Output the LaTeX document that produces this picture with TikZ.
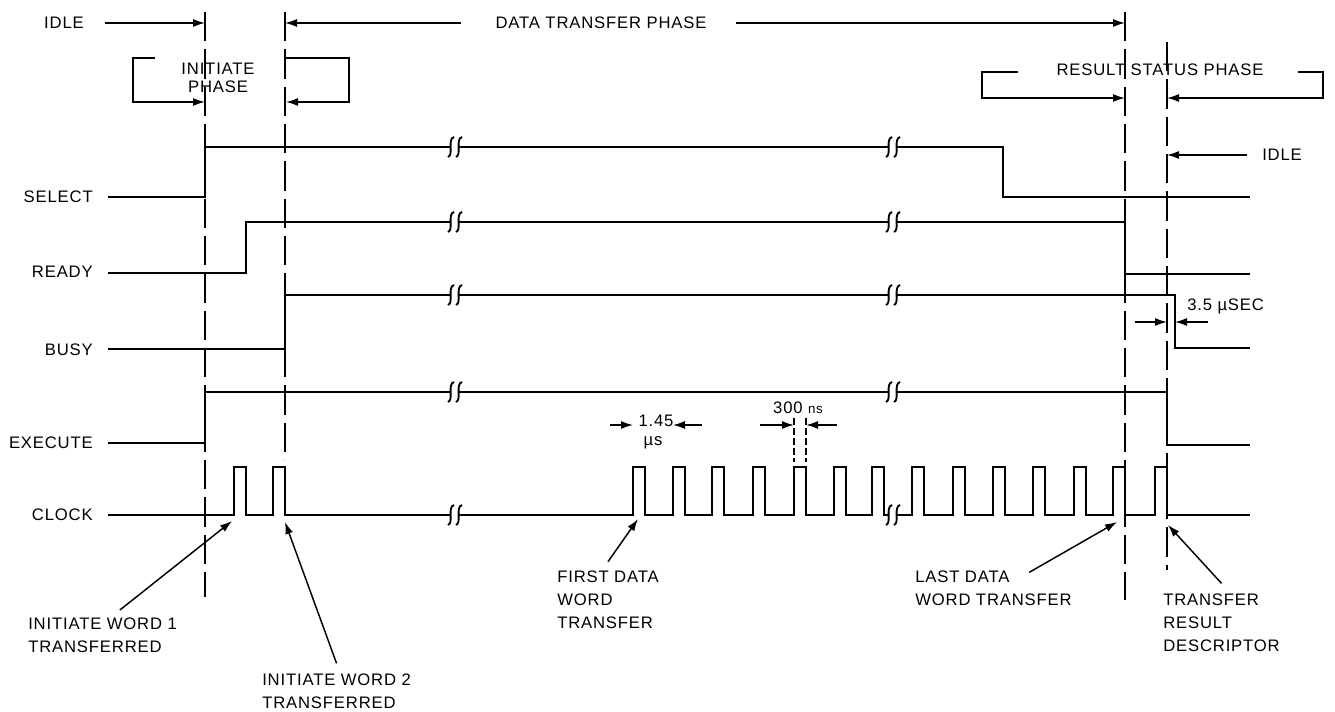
\documentclass[tikz,border=0pt]{standalone}
\usepackage{fontspec}
\setmainfont{Liberation Sans}[LetterSpace=5]
\usetikzlibrary{arrows.meta}

\tikzset{
    brk/.pic={
        \fill[white] (-4,-3) rectangle (4,3);
        \draw[line width=1.4pt] (-7,10) .. controls (-1,8) and (-8,-8) .. (-1,-10);
        \draw[line width=1.4pt] (1,10) .. controls (7,8) and (0,-8) .. (7,-10);
    }
}

\begin{document}
\begin{tikzpicture}[x=0.75pt,y=-0.75pt,
    sig/.style={line width=1.4pt, line join=miter},
    guide/.style={line width=1.4pt, dash pattern=on 22pt off 6pt},
    tick/.style={line width=1.2pt, dash pattern=on 5pt off 2.5pt},
    arr/.style={line width=1.1pt, line join=miter, -{Latex[length=9pt,width=6pt]}},
    lbl/.style={font=\fontsize{12.5}{14}\selectfont, inner sep=0pt},
    note/.style={lbl, align=left, anchor=north west, font=\fontsize{12.5}{17}\selectfont}]

    \useasboundingbox (0,0) rectangle (1335,711);

    \coordinate (g1t) at (205,12);
    \coordinate (g1b) at (205,597);
    \coordinate (g2t) at (285,12);
    \coordinate (g2b) at (285,460);
    \coordinate (g3t) at (1125,12);
    \coordinate (g3b) at (1125,600);
    \coordinate (g4t) at (1167,42);
    \coordinate (g4b) at (1167,570);

    \draw[guide] (g1t) -- (g1b);
    \draw[guide] (g2t) -- (g2b);
    \draw[guide] (g3t) -- (g3b);
    \draw[guide] (g4t) -- (g4b);

    \node[lbl, anchor=east] (select) at (93,197) {SELECT};
    \node[lbl, anchor=east] (ready) at (93,272) {READY};
    \node[lbl, anchor=east] (busy) at (93,350) {BUSY};
    \node[lbl, anchor=east] (execute) at (93,443) {EXECUTE};
    \node[lbl, anchor=east] (clock) at (93,515) {CLOCK};

    \draw[sig] (108,197) -- (205,197) -- (205,147) -- (1003,147) -- (1003,197) -- (1250,197);
    \draw[sig] (108,273) -- (246,273) -- (246,222) -- (1125,222) -- (1125,274) -- (1250,274);
    \draw[sig] (108,349) -- (285,349) -- (285,295) -- (1175,295) -- (1175,348) -- (1250,348);
    \draw[sig] (108,443) -- (205,443) -- (205,392) -- (1167,392) -- (1167,445) -- (1250,445);
    \draw[sig] (108,515)
        \foreach \r in {246,285,645,685,724,765,806,846,884,924,965,1005,1045,1086,1125,1167} {
            -- (\r-12,515) -- (\r-12,467) -- (\r,467) -- (\r,515)
        } -- (1250,515);

    \foreach \y in {147,222,295,392,515} {
        \pic at (455,\y) {brk};
        \pic at (893,\y) {brk};
    }

    % phases
    \coordinate (i1) at (205,23);
    \coordinate (d1) at (285,23);
    \coordinate (d2) at (1125,23);
    \node[lbl, anchor=east] (idle1) at (84,23) {IDLE};
    \draw[arr, shorten <=16pt] (idle1.east) -- (i1);
    \node[lbl] (dtp) at (601,23) {DATA TRANSFER PHASE};
    \draw[arr, shorten <=26pt] (dtp.west) -- (d1);
    \draw[arr, shorten <=22pt] (dtp.east) -- (d2);

    \node[lbl, align=center] (ini) at (218,78) {INITIATE\\PHASE};
    \draw[arr] (155,58) -- (133,58) -- (133,102) -- (205,102);
    \draw[arr] (285,58) -- (349,58) -- (349,102) -- (286,102);

    \node[lbl] (rsp) at (1160,70) {RESULT STATUS PHASE};
    \draw[arr] (1018,72) -- (982,72) -- (982,98) -- (1125,98);
    \draw[arr] (1298,72) -- (1323,72) -- (1323,98) -- (1167,98);

    \coordinate (i2) at (1167,155);
    \node[lbl, anchor=west] (idle2) at (1262,155) {IDLE};
    \draw[arr, shorten <=11pt] (idle2.west) -- (i2);

    % timing marks
    \coordinate (w1) at (633,425);
    \coordinate (w2) at (673,425);
    \node[lbl] (per) at (656,421) {1.45};
    \node[lbl] (perus) at (653,443) {µs};
    \draw[arr] (610,425) -- (w1);
    \draw[arr] (702,425) -- (w2);

    \coordinate (n1) at (794,425);
    \coordinate (n2) at (806,425);
    \node[lbl] (pw) at (798,408) {300 {\fontsize{10}{12}\selectfont ns}};
    \draw[tick] (794,418) -- (794,462);
    \draw[tick] (806,418) -- (806,462);
    \draw[arr] (760,425) -- (n1);
    \draw[arr] (837,425) -- (n2);

    \coordinate (b1) at (1167,322);
    \coordinate (b2) at (1175,322);
    \node[lbl, anchor=west] (dly) at (1187,306) {3.5 µSEC};
    \draw[arr] (1135,322) -- (b1);
    \draw[arr] (1208,322) -- (b2);

    % pointers
    \coordinate (c1) at (232,521);
    \coordinate (c2) at (285,522);
    \coordinate (c3) at (638,519);
    \coordinate (c4) at (1117,522);
    \coordinate (c5) at (1168,525);

    \node[note] (iw1) at (28,618) {INITIATE WORD 1\\TRANSFERRED};
    \node[note] (iw2) at (262,674) {INITIATE WORD 2\\TRANSFERRED};
    \node[note] (fdw) at (557,571) {FIRST DATA\\WORD\\TRANSFER};
    \node[note] (ldw) at (915,571) {LAST DATA\\WORD TRANSFER};
    \node[note] (trd) at (1163,594) {TRANSFER\\RESULT\\DESCRIPTOR};

    \draw[arr] ([xshift=13pt,yshift=6pt]iw1.north) -- (c1);
    \draw[arr] ([yshift=8pt]iw2.north) -- (c2);
    \draw[arr] ([yshift=7pt]fdw.north) -- (c3);
    \draw[arr] ([xshift=-32pt,yshift=-1pt]ldw.north east) -- (c4);
    \draw[arr] ([yshift=8pt]trd.north) -- (c5);
\end{tikzpicture}
\end{document}
